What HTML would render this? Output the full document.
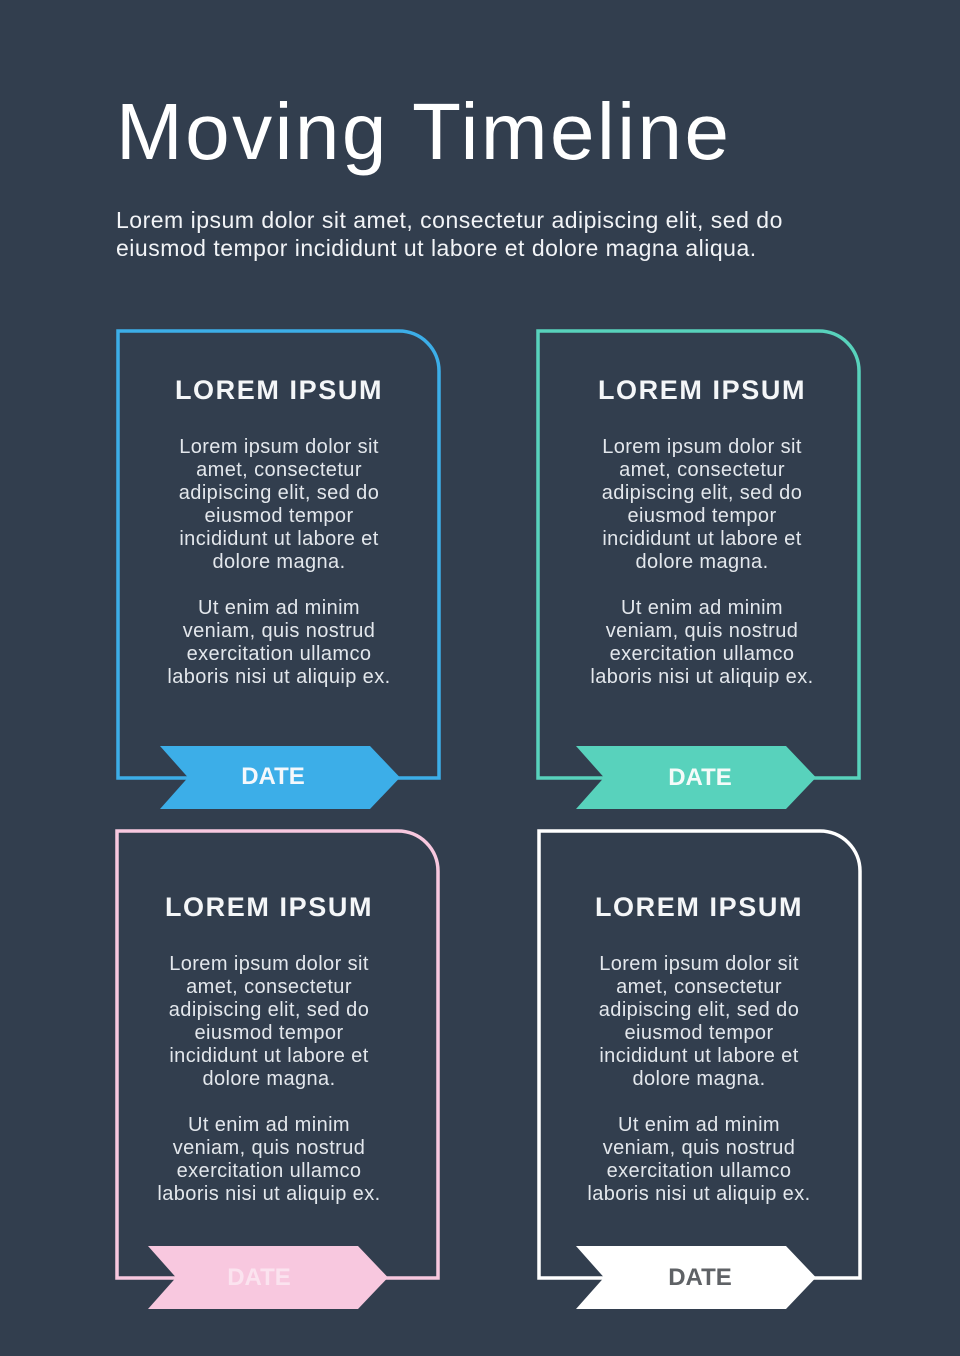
<!DOCTYPE html>
<html><head><meta charset="utf-8"><style>
*{margin:0;padding:0;box-sizing:border-box}
body{width:960px;height:1356px;background:#323e4e;position:relative;overflow:hidden;font-family:"Liberation Sans",sans-serif;color:#fff}
h1{position:absolute;left:116px;top:82px;font-size:80px;font-weight:normal;letter-spacing:2.5px;line-height:100px}
.sub{position:absolute;left:116px;top:206px;font-size:23px;line-height:28px;letter-spacing:0.5px;color:#f2f4f7}
svg{position:absolute;left:0;top:0}
.card{position:absolute;width:322px;text-align:center}
.card h2{font-size:27px;font-weight:bold;letter-spacing:1.6px;line-height:30px;height:46px;color:#f4f6f8}
.card p{font-size:20px;line-height:23px;letter-spacing:0.4px;color:#e3e7ec;margin-top:15px}
.card p+p{margin-top:23px}
.date{position:absolute;width:240px;text-align:center;font-size:24px;font-weight:bold;line-height:30px}
</style></head><body>
<h1>Moving Timeline</h1>
<div class="sub">Lorem ipsum dolor sit amet, consectetur adipiscing elit, sed do<br>eiusmod tempor incididunt ut labore et dolore magna aliqua.</div>
<svg width="960" height="1356">
<g fill="none" stroke-width="3.5">
<path d="M118 778 V331 H399 A40 40 0 0 1 439 371 V778 Z" stroke="#3caee8"/>
<path d="M538 778 V331 H819 A40 40 0 0 1 859 371 V778 Z" stroke="#58d2bc"/>
<path d="M117 1278 V831 H398 A40 40 0 0 1 438 871 V1278 Z" stroke="#f8c8df"/>
<path d="M539 1278 V831 H820 A40 40 0 0 1 860 871 V1278 Z" stroke="#ffffff"/>
</g>
<polygon points="160,746 370,746 400,777.5 370,809 160,809 188,777.5" fill="#3caee8"/>
<polygon points="576,746 786,746 816,777.5 786,809 576,809 604,777.5" fill="#58d2bc"/>
<polygon points="148,1246 358,1246 388,1277.5 358,1309 148,1309 176,1277.5" fill="#f8c8df"/>
<polygon points="576,1246 786,1246 816,1277.5 786,1309 576,1309 604,1277.5" fill="#ffffff"/>
</svg>
<div class="card" style="left:118px;top:375px"><h2>LOREM IPSUM</h2><p>Lorem ipsum dolor sit<br>amet, consectetur<br>adipiscing elit, sed do<br>eiusmod tempor<br>incididunt ut labore et<br>dolore magna.</p><p>Ut enim ad minim<br>veniam, quis nostrud<br>exercitation ullamco<br>laboris nisi ut aliquip ex.</p></div>
<div class="card" style="left:541px;top:375px"><h2>LOREM IPSUM</h2><p>Lorem ipsum dolor sit<br>amet, consectetur<br>adipiscing elit, sed do<br>eiusmod tempor<br>incididunt ut labore et<br>dolore magna.</p><p>Ut enim ad minim<br>veniam, quis nostrud<br>exercitation ullamco<br>laboris nisi ut aliquip ex.</p></div>
<div class="card" style="left:108px;top:892px"><h2>LOREM IPSUM</h2><p>Lorem ipsum dolor sit<br>amet, consectetur<br>adipiscing elit, sed do<br>eiusmod tempor<br>incididunt ut labore et<br>dolore magna.</p><p>Ut enim ad minim<br>veniam, quis nostrud<br>exercitation ullamco<br>laboris nisi ut aliquip ex.</p></div>
<div class="card" style="left:538px;top:892px"><h2>LOREM IPSUM</h2><p>Lorem ipsum dolor sit<br>amet, consectetur<br>adipiscing elit, sed do<br>eiusmod tempor<br>incididunt ut labore et<br>dolore magna.</p><p>Ut enim ad minim<br>veniam, quis nostrud<br>exercitation ullamco<br>laboris nisi ut aliquip ex.</p></div>
<div class="date" style="left:153px;top:762px;color:#f4f8fc">DATE</div>
<div class="date" style="left:580px;top:763px;color:#f4fbf9">DATE</div>
<div class="date" style="left:139px;top:1263px;color:#fbe3ef">DATE</div>
<div class="date" style="left:580px;top:1263px;color:#5f6266">DATE</div>
</body></html>
